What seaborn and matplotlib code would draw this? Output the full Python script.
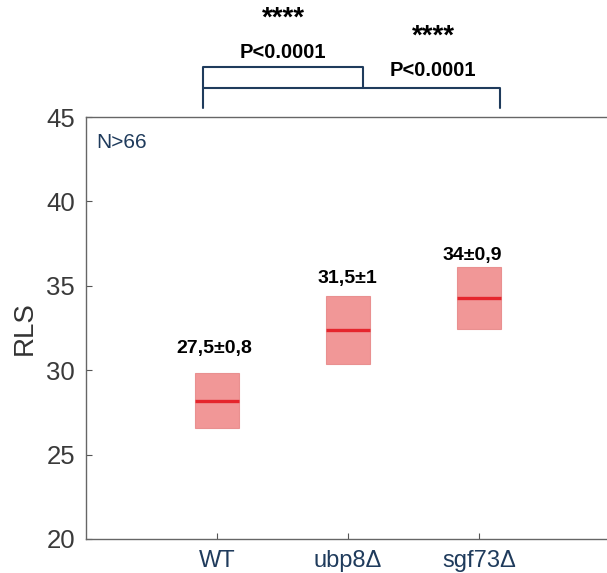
import matplotlib
matplotlib.use("Agg")
import matplotlib.pyplot as plt
import matplotlib.transforms as mtransforms
import seaborn as sns
import numpy as np
import pandas as pd

# ---- data ----
strains = ["WT", "ubp8Δ", "sgf73Δ"]
positions = [1, 2, 3]
means = [28.2, 32.4, 34.3]
lows = [26.6, 30.35, 32.45]
highs = [29.85, 34.4, 36.1]
value_labels = ["27,5±0,8", "31,5±1", "34±0,9"]
pvalue_text = "P<0.0001"
stars_text = "****"
n_text = "N>66"

sns.set_theme(style="white")
plt.rcParams["font.family"] = ["Liberation Sans", "DejaVu Sans"]

fig = plt.figure(figsize=(6.07, 5.73), dpi=100)
ax = fig.add_axes([86/607, 34/573, 524/607, 422/573])

df = pd.DataFrame({"pos": positions, "height": np.array(highs) - np.array(lows),
                   "low": lows, "strain": strains})

sns.barplot(data=df, x="pos", y="height", bottom=df["low"].to_numpy(),
            native_scale=True, width=0.34, color="#F08C8C",
            saturation=1, edgecolor="#E88A8A", linewidth=0.8, ax=ax,
            errorbar=None)
for p in ax.patches:
    p.set_alpha(0.9)

ax.hlines(means, np.array(positions) - 0.17, np.array(positions) + 0.17,
          colors="#E5262D", linewidth=2.4, zorder=5)

navy = "#1F3B5C"
# value labels
offsets = [(-3, 24), (-1, 17), (-7, 12)]
for x, hi, lab, off in zip(positions, highs, value_labels, offsets):
    ax.annotate(lab, (x, hi), xytext=off, textcoords="offset pixels",
                ha="center", va="center", fontsize=14, fontweight="bold",
                color="black")

ax.set_xlim(0, 4)
ax.set_ylim(20, 45)
ax.set_yticks([20, 25, 30, 35, 40, 45])
ax.set_xticks(positions)
ax.set_xticklabels(strains)
ax.set_xlabel("")
ax.set_ylabel("RLS", fontsize=20, color="#333333", labelpad=6)
ax.tick_params(axis="y", labelsize=18.5, labelcolor="#3a3a3a", direction="in",
               length=4, width=0.8, color="#555555", left=True, pad=8)
ax.tick_params(axis="x", labelsize=17, labelcolor=navy, direction="in",
               length=4, width=0.8, color="#555555", bottom=True, pad=8)
for s in ["left", "bottom", "top", "right"]:
    ax.spines[s].set_color("#666666")
    ax.spines[s].set_linewidth(1.0)

ax.text(0.08, 43.5, n_text, fontsize=15, color=navy, ha="left", va="center")

# significance brackets (x in data, y in axes fraction)
trans = mtransforms.blended_transform_factory(ax.transData, ax.transAxes)
xa, xb, xc = 0.893, 2.115, 3.16
y1, y2, y3 = 1.118, 1.0687, 1.0213
ax.plot([xa, xa, xb, xb], [y3, y1, y1, y2], color=navy, lw=1.5,
        transform=trans, clip_on=False)
ax.plot([xa, xc, xc], [y2, y2, y3], color=navy, lw=1.5,
        transform=trans, clip_on=False)
ax.text(1.505, 1.232, stars_text, transform=trans, ha="center", va="center",
        fontsize=20, fontweight="bold", color="black")
ax.text(1.505, 1.154, pvalue_text, transform=trans, ha="center", va="center",
        fontsize=14.5, fontweight="bold", color="black")
ax.text(2.65, 1.191, stars_text, transform=trans, ha="center", va="center",
        fontsize=20, fontweight="bold", color="black")
ax.text(2.65, 1.111, pvalue_text, transform=trans, ha="center", va="center",
        fontsize=14.5, fontweight="bold", color="black")

fig.savefig("out.png", dpi=100)
